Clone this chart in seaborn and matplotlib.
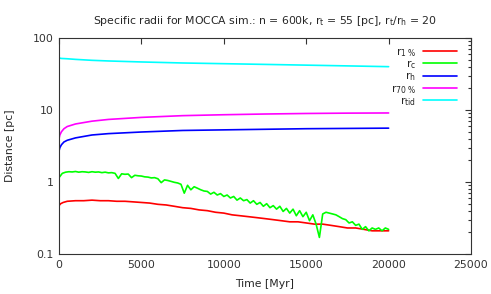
import numpy as np
import pandas as pd
import seaborn as sns
import matplotlib.pyplot as plt
from matplotlib.ticker import FixedLocator, LogLocator, NullFormatter, FuncFormatter

# labels of the five radii (legend order)
labels = [r'r$_{\mathregular{1\ \%}}$', r'r$_{\mathregular{c}}$', r'r$_{\mathregular{h}}$',
          r'r$_{\mathregular{70\ \%}}$', r'r$_{\mathregular{tid}}$']
colors = ['#ff0000', '#00ff00', '#0000ff', '#ff00ff', '#00ffff']

# core radius (noisy), every 200 Myr
t_core = list(range(0, 20001, 200))
r_core = [1.15, 1.32, 1.37, 1.39, 1.38, 1.40, 1.37, 1.39, 1.38, 1.36,
          1.39, 1.37, 1.38, 1.35, 1.37, 1.34, 1.35, 1.32, 1.12, 1.30,
          1.28, 1.29, 1.15, 1.24, 1.22, 1.21, 1.18, 1.17, 1.14, 1.15,
          1.11, 0.98, 1.07, 1.05, 1.02, 0.99, 0.97, 0.93, 0.70, 0.90,
          0.78, 0.86, 0.82, 0.78, 0.75, 0.74, 0.68, 0.72, 0.66, 0.69,
          0.63, 0.66, 0.60, 0.63, 0.56, 0.60, 0.55, 0.57, 0.51, 0.55,
          0.49, 0.52, 0.46, 0.50, 0.44, 0.47, 0.42, 0.46, 0.39, 0.43,
          0.37, 0.42, 0.34, 0.40, 0.33, 0.38, 0.29, 0.35, 0.26, 0.17,
          0.36, 0.38, 0.37, 0.36, 0.35, 0.33, 0.31, 0.30, 0.27, 0.28,
          0.25, 0.26, 0.22, 0.24, 0.21, 0.23, 0.22, 0.23, 0.21, 0.23,
          0.22]

# 1 % lagrangian radius
t_r1 = [0, 100, 250] + list(range(500, 20001, 500))
r_1 = [0.47, 0.50, 0.52,
       0.54, 0.55, 0.55, 0.56, 0.55, 0.55, 0.54, 0.54, 0.53, 0.52,
       0.51, 0.49, 0.48, 0.46, 0.44, 0.43, 0.41, 0.40, 0.38, 0.37,
       0.35, 0.34, 0.33, 0.32, 0.31, 0.30, 0.29, 0.28, 0.28, 0.27,
       0.26, 0.26, 0.25, 0.24, 0.23, 0.23, 0.22, 0.21, 0.21, 0.21]

# smooth radii
t_smooth = [0, 50, 150, 300, 500, 1000, 2000, 3000, 5000, 7500, 10000, 12500, 15000, 17500, 20000]
r_h = [2.7, 3.0, 3.3, 3.6, 3.8, 4.1, 4.5, 4.7, 4.95, 5.2, 5.3, 5.4, 5.5, 5.55, 5.6]
r_70 = [4.0, 4.5, 5.0, 5.5, 5.9, 6.4, 7.0, 7.4, 7.9, 8.35, 8.6, 8.8, 8.95, 9.05, 9.1]
r_tid = [53, 52.5, 52, 51.8, 51.5, 50.5, 49, 48, 46.5, 45, 44, 43, 42, 41, 40]

frames = [
    pd.DataFrame({'time': t_r1, 'r': r_1, 'radius': labels[0]}),
    pd.DataFrame({'time': t_core, 'r': r_core, 'radius': labels[1]}),
    pd.DataFrame({'time': t_smooth, 'r': r_h, 'radius': labels[2]}),
    pd.DataFrame({'time': t_smooth, 'r': r_70, 'radius': labels[3]}),
    pd.DataFrame({'time': t_smooth, 'r': r_tid, 'radius': labels[4]}),
]
df = pd.concat(frames, ignore_index=True)

sns.set_style('white')
plt.rcParams['font.family'] = ['DejaVu Sans']
plt.rcParams['mathtext.default'] = 'regular'
fs = 7.8

fig = plt.figure(figsize=(4.91, 2.94), dpi=100)
ax = fig.add_axes([0.1202, 0.136, 0.8391, 0.7347])

sns.lineplot(data=df, x='time', y='r', hue='radius', hue_order=labels,
             palette=dict(zip(labels, colors)), estimator=None, errorbar=None,
             linewidth=1.2, ax=ax)

ax.set_yscale('log')
ax.set_xlim(0, 25000)
ax.set_ylim(0.1, 100)
ax.xaxis.set_major_locator(FixedLocator([0, 5000, 10000, 15000, 20000, 25000]))
ax.yaxis.set_major_locator(FixedLocator([0.1, 1, 10, 100]))
ax.yaxis.set_major_formatter(FuncFormatter(lambda v, p: '%g' % v))
ax.yaxis.set_minor_locator(LogLocator(base=10, subs=np.arange(2, 10)))
ax.yaxis.set_minor_formatter(NullFormatter())
ax.tick_params(which='both', direction='in', top=True, right=True,
               labelsize=fs, colors='#333333', width=0.8)
ax.tick_params(which='major', length=4, pad=4)
ax.tick_params(which='minor', length=2.5)
for s in ax.spines.values():
    s.set_color('#333333')
    s.set_linewidth(0.8)

ax.set_xlabel('Time [Myr]', fontsize=fs, labelpad=7)
ax.set_ylabel('Distance [pc]', fontsize=fs, labelpad=13)
ax.set_title(r'Specific radii for MOCCA sim.: n = 600k, r$_t$ = 55 [pc], r$_t$/r$_h$ = 20',
             fontsize=fs, pad=10)

ax.legend(loc='upper right', bbox_to_anchor=(0.967, 0.963), frameon=False,
          markerfirst=False, fontsize=fs, handlelength=3.2, handletextpad=0.6,
          labelspacing=-0.05, borderpad=0, borderaxespad=0)

fig.savefig('out.png', dpi=100)
